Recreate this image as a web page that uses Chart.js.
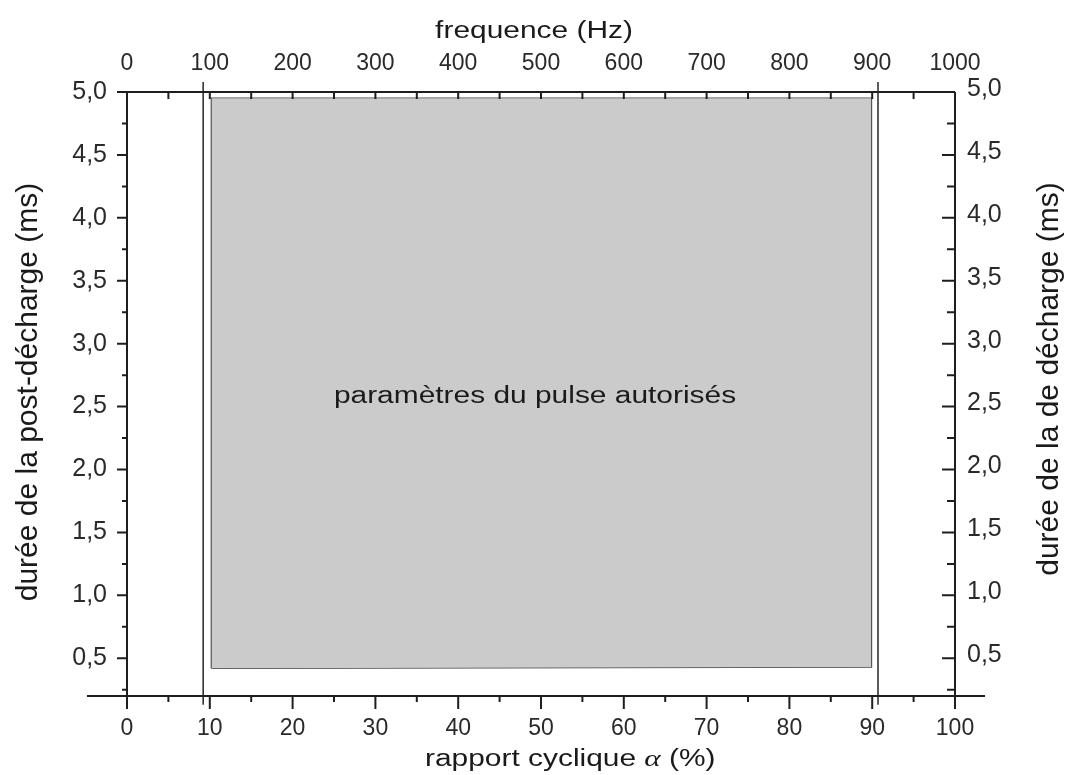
<!DOCTYPE html>
<html>
<head>
<meta charset="utf-8">
<script src="https://cdn.jsdelivr.net/npm/chart.js"></script>
<style>
  body { margin: 0; background: #fff; }
  #wrap { width: 1069px; height: 775px; }
</style>
</head>
<body>
<div id="wrap"><canvas id="pulseChart"></canvas></div>
<script>
// tick labels
const alphaTicks = [0, 10, 20, 30, 40, 50, 60, 70, 80, 90, 100];
const freqTicks = [0, 100, 200, 300, 400, 500, 600, 700, 800, 900, 1000];
const durationTicks = [0.5, 1.0, 1.5, 2.0, 2.5, 3.0, 3.5, 4.0, 4.5, 5.0];

// allowed pulse region : rapport cyclique (%) / durée (ms)
const regionAlpha = [10.2, 89.9];
const regionTop = [4.95, 4.95];
const regionBottom = [0.42, 0.43];

// limit lines at alpha ~ 10 % and ~ 90 %
const limitAlpha = [9.2, 90.7];
const limitSpan = [0.13, 5.08];

const FONT = '"Liberation Sans", Arial, sans-serif';
const tickFont = { family: FONT, size: 23 };
const yTickFont = { family: FONT, size: 25 };
const fmtComma = v => Number(v).toFixed(1).replace('.', ',');
const fmtPlain = v => String(v);

const topEdge = regionAlpha.map((a, i) => ({ x: a, y: regionTop[i] }));
const bottomEdge = regionAlpha.map((a, i) => ({ x: a, y: regionBottom[i] }));
const outline = [bottomEdge[0], topEdge[0], topEdge[1], bottomEdge[1], bottomEdge[0]];

const datasets = [
    { data: topEdge, showLine: true, fill: '+1', backgroundColor: '#cbcbcb', borderWidth: 0, pointRadius: 0 },
    { data: bottomEdge, showLine: true, fill: false, borderWidth: 0, pointRadius: 0 },
    { data: outline, showLine: true, fill: false, borderColor: '#444', borderWidth: 1.6, pointRadius: 0 }
];
limitAlpha.forEach(a => {
    datasets.push({
        data: limitSpan.map(y => ({ x: a, y: y })),
        showLine: true, fill: false, borderColor: '#333', borderWidth: 1.6, pointRadius: 0, clip: false
    });
});

// text drawn with a horizontal stretch, like the scanned figure
function drawText(ctx, text, x, y, opts) {
    ctx.save();
    ctx.translate(x, y);
    if (opts.angle) ctx.rotate(opts.angle);
    ctx.scale(opts.sx || 1, 1);
    ctx.font = opts.font;
    ctx.textAlign = opts.align || 'center';
    ctx.textBaseline = 'alphabetic';
    ctx.fillStyle = '#1a1a1a';
    ctx.fillText(text, 0, 0);
    const w = ctx.measureText(text).width * (opts.sx || 1);
    ctx.restore();
    return w;
}

const framePlugin = {
    id: 'frame',
    afterDatasetsDraw(chart) {
        const ctx = chart.ctx;
        const ca = chart.chartArea;
        const sx = chart.scales.x, sx2 = chart.scales.x2, sy = chart.scales.y;

        ctx.save();
        ctx.strokeStyle = '#1e1e1e';
        ctx.lineWidth = 2;
        ctx.beginPath();
        // axis lines
        ctx.moveTo(ca.left - 40, ca.bottom); ctx.lineTo(ca.right + 30, ca.bottom);
        ctx.moveTo(ca.left - 10, ca.top); ctx.lineTo(ca.right, ca.top);
        ctx.moveTo(ca.left, ca.top); ctx.lineTo(ca.left, ca.bottom);
        ctx.moveTo(ca.right, ca.top); ctx.lineTo(ca.right, ca.bottom);

        // bottom ticks (outward)
        for (let v = 0; v <= 100; v += 5) {
            const px = sx.getPixelForValue(v);
            ctx.moveTo(px, ca.bottom); ctx.lineTo(px, ca.bottom + (v % 10 === 0 ? 13 : 6));
        }
        // top ticks (inward)
        for (let v = 0; v <= 1000; v += 50) {
            const px = sx2.getPixelForValue(v);
            ctx.moveTo(px, ca.top); ctx.lineTo(px, ca.top + 7);
        }
        // left (outward) and right (inward) ticks
        for (let i = 1; i <= 20; i++) {
            const v = i * 0.25;
            const py = sy.getPixelForValue(v);
            const major = i % 2 === 0;
            ctx.moveTo(ca.left, py); ctx.lineTo(ca.left - (major ? 10 : 5), py);
            ctx.moveTo(ca.right, py); ctx.lineTo(ca.right - (major ? 13 : 8), py);
        }
        ctx.stroke();
        ctx.restore();

        // titles and annotation
        const hFont = '23px ' + FONT;
        const vFont = '30px ' + FONT;
        drawText(ctx, 'frequence (Hz)', 534, 38, { font: hFont, sx: 1.3 });
        drawText(ctx, 'paramètres du pulse autorisés', 535, 403, { font: hFont, sx: 1.3 });

        let x = 425;
        x += drawText(ctx, 'rapport cyclique ', x, 766, { font: hFont, sx: 1.3, align: 'left' });
        x += drawText(ctx, 'α', x, 766, { font: 'italic 24px "Liberation Serif", serif', sx: 1.3, align: 'left' });
        drawText(ctx, ' (%)', x, 766, { font: hFont, sx: 1.3, align: 'left' });

        drawText(ctx, 'durée de la post-décharge (ms)', 37, 392, { font: vFont, angle: -Math.PI / 2 });
        drawText(ctx, 'durée de la de décharge (ms)', 1058, 379, { font: vFont, angle: -Math.PI / 2 });
    }
};

function axisBase(extra) {
    return Object.assign({
        type: 'linear',
        grid: { display: false, drawTicks: false },
        border: { display: false },
        title: { display: false }
    }, extra);
}

new Chart(document.getElementById('pulseChart'), {
    type: 'scatter',
    data: { datasets: datasets },
    options: {
        responsive: true,
        maintainAspectRatio: false,
        animation: false,
        layout: { padding: 0 },
        plugins: { legend: { display: false }, tooltip: { enabled: false } },
        scales: {
            x: axisBase({
                position: 'bottom', min: 0, max: 100,
                ticks: { font: tickFont, color: '#2a2a2a', padding: 19, maxRotation: 0, autoSkip: false, callback: fmtPlain },
                afterBuildTicks: s => { s.ticks = alphaTicks.map(v => ({ value: v })); },
                afterFit: s => { s.height = 79; }
            }),
            x2: axisBase({
                position: 'top', min: 0, max: 1000,
                ticks: { font: tickFont, color: '#2a2a2a', padding: 15, maxRotation: 0, autoSkip: false, callback: fmtPlain },
                afterBuildTicks: s => { s.ticks = freqTicks.map(v => ({ value: v })); },
                afterFit: s => { s.height = 92; }
            }),
            y: axisBase({
                position: 'left', min: 0.2, max: 5.0,
                ticks: { font: yTickFont, color: '#2a2a2a', padding: 20, callback: fmtComma },
                afterBuildTicks: s => { s.ticks = durationTicks.map(v => ({ value: v })); },
                afterFit: s => { s.width = 127; }
            }),
            y2: axisBase({
                position: 'right', min: 0.2, max: 5.0,
                ticks: { font: yTickFont, color: '#2a2a2a', padding: 12, labelOffset: -3, callback: fmtComma },
                afterBuildTicks: s => { s.ticks = durationTicks.map(v => ({ value: v })); },
                afterFit: s => { s.width = 114; }
            })
        }
    },
    plugins: [framePlugin]
});
</script>
</body>
</html>
